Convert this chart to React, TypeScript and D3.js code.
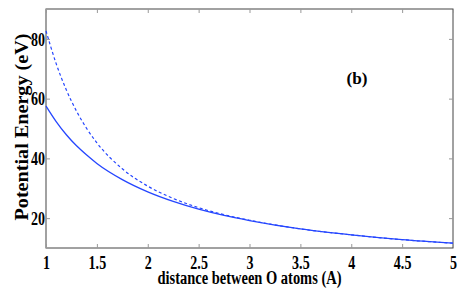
import * as d3 from 'd3'
import React, { useEffect, useRef } from 'react'

// distances (A) sampled along the curves
const distance = [1, 1.1, 1.2, 1.3, 1.4, 1.5, 1.75, 2, 2.25, 2.5, 2.75, 3, 3.5, 4, 4.5, 5]
// solid curve
const energySolid = [57.5, 52.3, 47.9, 44.2, 41.1, 38.3, 32.9, 28.8, 25.6, 23.0, 20.9, 19.2, 16.4, 14.4, 12.8, 11.6]
// dashed curve
const energyDashed = [82.7, 71.7, 62.9, 55.8, 50.0, 45.2, 36.5, 30.7, 26.6, 23.5, 21.15, 19.3, 16.4, 14.4, 12.8, 11.6]

const xTicks = [1, 1.5, 2, 2.5, 3, 3.5, 4, 4.5, 5]
const yTicks = [20, 40, 60, 80]

export default function App() {
  const sandbox = useRef<SVGSVGElement>(null)

  useEffect(() => {
    const svg = d3.select(sandbox.current)
    svg.selectAll('*').remove()

    const width = 469
    const height = 300
    const m = { top: 9, right: 16, bottom: 52, left: 46 }
    const font = '"Liberation Serif", "Times New Roman", serif'

    const x = d3.scaleLinear().domain([1, 5]).range([m.left, width - m.right])
    const y = d3.scaleLinear().domain([10, 90]).range([height - m.bottom, m.top])

    //frame
    svg
      .append('rect')
      .attr('x', m.left)
      .attr('y', m.top)
      .attr('width', width - m.left - m.right)
      .attr('height', height - m.top - m.bottom)
      .attr('fill', 'none')
      .attr('stroke', '#444')
      .attr('stroke-width', 1)

    const styleAxis = (g: any) => {
      g.select('.domain').remove()
      g.selectAll('.tick line').attr('stroke', '#999')
    }

    //bottom axis
    const gx = svg
      .append('g')
      .attr('transform', `translate(0,${height - m.bottom})`)
      .call(d3.axisBottom(x).tickValues(xTicks).tickSize(-4).tickPadding(0).tickFormat(d3.format('')))
    styleAxis(gx)
    gx.selectAll('.tick text')
      .attr('y', 0)
      .attr('dy', 0)
      .attr('transform', 'translate(0,21) scale(0.78,1)')
      .attr('font-family', font)
      .attr('font-weight', 'bold')
      .attr('font-size', 18)
      .attr('fill', '#000')

    //top ticks
    const gt = svg
      .append('g')
      .attr('transform', `translate(0,${m.top})`)
      .call(d3.axisTop(x).tickValues(xTicks).tickSize(-4).tickFormat(() => ''))
    styleAxis(gt)

    //left axis
    const gy = svg
      .append('g')
      .attr('transform', `translate(${m.left},0)`)
      .call(d3.axisLeft(y).tickValues(yTicks).tickSize(-4).tickPadding(0))
    styleAxis(gy)
    gy.selectAll('.tick text')
      .attr('x', 0)
      .attr('dy', '0.34em')
      .attr('transform', 'translate(-1,0) scale(0.78,1)')
      .attr('font-family', font)
      .attr('font-weight', 'bold')
      .attr('font-size', 18)
      .attr('fill', '#000')

    //right ticks
    const gr = svg
      .append('g')
      .attr('transform', `translate(${width - m.right},0)`)
      .call(d3.axisRight(y).tickValues(yTicks).tickSize(-4).tickFormat(() => ''))
    styleAxis(gr)

    //curves
    const line = d3
      .line<number>()
      .x((_, i) => x(distance[i]))
      .y((d) => y(d))
      .curve(d3.curveMonotoneX)

    svg
      .append('path')
      .attr('d', line(energyDashed))
      .attr('fill', 'none')
      .attr('stroke', '#2546ff')
      .attr('stroke-width', 1.2)
      .attr('stroke-dasharray', '3,2.5')

    svg
      .append('path')
      .attr('d', line(energySolid))
      .attr('fill', 'none')
      .attr('stroke', '#2546ff')
      .attr('stroke-width', 1.3)

    //labels
    svg
      .append('text')
      .attr('x', (m.left + width - m.right) / 2)
      .attr('y', 284)
      .attr('text-anchor', 'middle')
      .attr('font-family', font)
      .attr('font-weight', 'bold')
      .attr('font-size', 18)
      .attr('textLength', 184)
      .attr('lengthAdjust', 'spacingAndGlyphs')
      .text('distance between O atoms (A)')

    svg
      .append('text')
      .attr('transform', `translate(28,127) rotate(-90)`)
      .attr('text-anchor', 'middle')
      .attr('font-family', font)
      .attr('font-weight', 'bold')
      .attr('font-size', 18)
      .attr('textLength', 187)
      .attr('lengthAdjust', 'spacingAndGlyphs')
      .text('Potential Energy (eV)')

    svg
      .append('text')
      .attr('x', 357)
      .attr('y', 84)
      .attr('text-anchor', 'middle')
      .attr('font-family', font)
      .attr('font-weight', 'bold')
      .attr('font-size', 16)
      .attr('textLength', 21)
      .attr('lengthAdjust', 'spacingAndGlyphs')
      .text('(b)')
  }, [sandbox])

  return (
    <svg
      ref={sandbox}
      width="469"
      height="300"
      style={{ position: 'absolute', left: 0, top: 0, background: '#fff' }}
    />
  )
}
